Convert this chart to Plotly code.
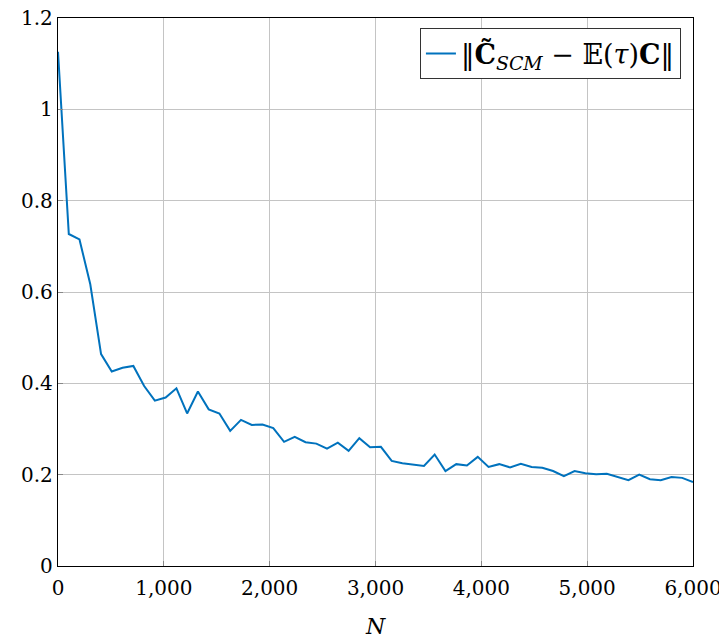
import plotly.graph_objects as go

# sample sizes N (60 points from 0 to 6000)
N = [0, 102, 203, 305, 407, 508, 610, 712, 814, 915,
     1017, 1119, 1220, 1322, 1424, 1525, 1627, 1729, 1831, 1932,
     2034, 2136, 2237, 2339, 2441, 2542, 2644, 2746, 2847, 2949,
     3051, 3153, 3254, 3356, 3458, 3559, 3661, 3763, 3864, 3966,
     4068, 4169, 4271, 4373, 4475, 4576, 4678, 4780, 4881, 4983,
     5085, 5186, 5288, 5390, 5492, 5593, 5695, 5797, 5898, 6000]

# error norm ||C_SCM - E(tau) C||
err = [1.126, 0.727, 0.715, 0.617, 0.464, 0.426, 0.434, 0.438, 0.394, 0.362,
       0.369, 0.389, 0.334, 0.382, 0.343, 0.334, 0.296, 0.320, 0.309, 0.310,
       0.302, 0.272, 0.283, 0.271, 0.268, 0.257, 0.270, 0.252, 0.280, 0.260,
       0.261, 0.230, 0.225, 0.222, 0.219, 0.244, 0.208, 0.223, 0.220, 0.239,
       0.217, 0.223, 0.216, 0.224, 0.217, 0.215, 0.208, 0.197, 0.208, 0.203,
       0.201, 0.202, 0.195, 0.188, 0.200, 0.190, 0.188, 0.195, 0.193, 0.184]

x_ticks = [0, 1000, 2000, 3000, 4000, 5000, 6000]
y_ticks = [0, 0.2, 0.4, 0.6, 0.8, 1.0, 1.2]
y_labels = ["0", "0.2", "0.4", "0.6", "0.8", "1", "1.2"]

legend_name = "‖<b>C̃</b><sub><i>SCM</i></sub> − 𝔼(<i>τ</i>)<b>C</b>‖"

FONT = "DejaVu Serif, Liberation Serif, serif"

fig = go.Figure()
fig.add_trace(go.Scatter(x=N, y=err, mode="lines", name=legend_name,
                         line=dict(color="#0072BD", width=2)))

axis_common = dict(showgrid=True, gridcolor="#c4c4c4", gridwidth=1,
                   showline=True, linecolor="black", linewidth=1.3, mirror=True,
                   ticks="inside", ticklen=5, tickcolor="#888888",
                   zeroline=False, automargin=False, ticklabeloverflow="allow",
                   tickfont=dict(family=FONT, size=20, color="black"))

fig.update_layout(
    width=719, height=631,
    margin=dict(l=50, r=34, t=10, b=73),
    plot_bgcolor="white", paper_bgcolor="white",
    font=dict(family=FONT, size=20, color="black"),
    xaxis=dict(range=[0, 6000], tickvals=x_ticks, tickformat=",",
               ticklabelstandoff=4,
               title=dict(text="<i>N</i>", font=dict(family=FONT, size=22), standoff=22),
               **axis_common),
    yaxis=dict(range=[0, 1.2], tickvals=y_ticks, ticktext=y_labels,
               **axis_common),
    legend=dict(x=0.981, y=0.981, xanchor="right", yanchor="top",
                bgcolor="white", bordercolor="#333333", borderwidth=1,
                font=dict(family=FONT, size=27)),
    showlegend=True,
)

fig.write_html("out.html")
